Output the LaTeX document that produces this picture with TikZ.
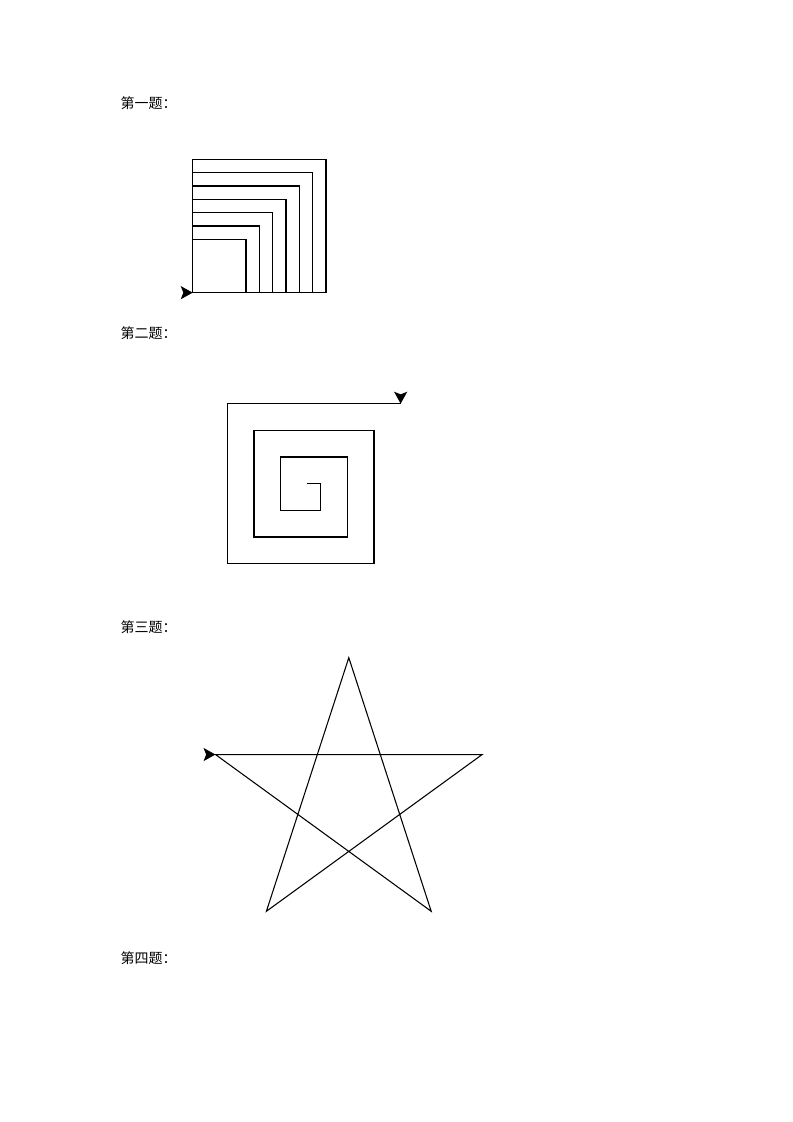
\documentclass[tikz,border=0pt]{standalone}
\usepackage{fontspec}
\newfontfamily\cjk{Noto Sans CJK SC}

\begin{document}
\begin{tikzpicture}[x=1pt,y=1pt,line width=0.9pt,line join=miter,
  title node/.style={anchor=west,inner sep=0pt,font=\cjk\fontsize{10.5}{12}\selectfont},
  turtle/.pic={\fill (0,0) -- (-9,5) -- (-7,0) -- (-9,-5) -- cycle;}]

  \useasboundingbox (0,0) rectangle (594.75,-841.5);

  \node[title node] (t1) at (90,-77.6)  {第一题：};
  \node[title node] (t2) at (90,-250.1) {第二题：};
  \node[title node] (t3) at (90,-470.3) {第三题：};
  \node[title node] (t4) at (90,-718.5) {第四题：};

  % squares
  \coordinate (sq) at (144.5,-219.5);
  \foreach \s in {40,50,...,100}
    \draw (sq) -- ++(0,\s) -- ++(\s,0) -- ++(0,-\s);
  \draw (sq) -- ++(100,0);
  \pic at (sq) {turtle};

  % spiral
  \coordinate (sp) at (230.5,-362.75);
  \draw (sp) \foreach \i in {1,...,13} { -- ++({-90*(\i-1)}:{10*\i}) } coordinate (spend);
  \pic[rotate=-90] at (spend) {turtle};

  % star
  \coordinate (st) at (161.6,-565.9);
  \draw[line width=0.8pt] (st) \foreach \k in {0,...,4} { -- ++({-144*\k}:200) } -- cycle;
  \pic at (st) {turtle};
\end{tikzpicture}
\end{document}
